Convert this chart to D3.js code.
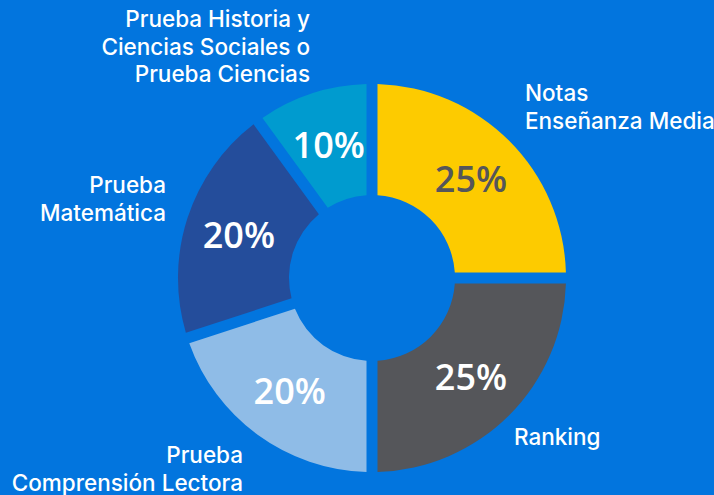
<!DOCTYPE html>
<html>
<head>
<meta charset="utf-8">
<script src="https://cdn.jsdelivr.net/npm/d3@7"></script>
<style>
  html, body { margin: 0; padding: 0; background: #0275de; }
  svg { display: block; }
</style>
</head>
<body>
<svg id="chart" width="714" height="495"></svg>
<script>
// chart data
const categories = ['Notas Enseñanza Media', 'Ranking', 'Prueba Comprensión Lectora', 'Prueba Matemática', 'Prueba Historia y Ciencias Sociales o Prueba Ciencias']
const values = [25, 25, 20, 20, 10]
const labelLines = [
    ['Notas', 'Enseñanza Media'],
    ['Ranking'],
    ['Prueba', 'Comprensión Lectora'],
    ['Prueba', 'Matemática'],
    ['Prueba Historia y', 'Ciencias Sociales o', 'Prueba Ciencias']
]
const sliceColors = ['#fdcb00', '#55565a', '#8fbce7', '#244d9b', '#009bcf']
const valueColors = ['#55565a', '#ffffff', '#ffffff', '#ffffff', '#ffffff']

const width = 714
const height = 495
const cx = 372
const cy = 278
const outerR = 194
const innerR = 83
const gap = 11

// where the outside labels sit (anchor, x, first baseline)
const labelPos = [
    { anchor: 'start', x: 525, y: 101 },
    { anchor: 'start', x: 514, y: 445 },
    { anchor: 'end', x: 243, y: 463 },
    { anchor: 'end', x: 166, y: 193 },
    { anchor: 'end', x: 310, y: 27 }
]
const lineHeight = 27.5

const svg = d3.select('#chart')

const data = categories.map((c, i) => ({ name: c, value: values[i], idx: i }))

const pie = d3.pie()
    .value(d => d.value)
    .sort(null)

const arc = d3.arc()
    .innerRadius(innerR)
    .outerRadius(outerR)
    .padRadius(outerR)
    .padAngle(gap / outerR)

const labelArc = d3.arc()
    .innerRadius(140)
    .outerRadius(140)

const g = svg.append('g')
    .attr('transform', `translate(${cx},${cy})`)

const arcs = pie(data)

g.selectAll('path.slice')
    .data(arcs)
    .enter()
    .append('path')
    .attr('class', 'slice')
    .attr('d', arc)
    .attr('fill', d => sliceColors[d.data.idx])

g.selectAll('text.pct')
    .data(arcs)
    .enter()
    .append('text')
    .attr('class', 'pct')
    .attr('transform', d => `translate(${labelArc.centroid(d)})`)
    .attr('text-anchor', 'middle')
    .attr('dy', '0.36em')
    .attr('font-family', '"Open Sans", sans-serif')
    .attr('font-weight', 600)
    .attr('font-size', 36)
    .attr('fill', d => valueColors[d.data.idx])
    .text(d => d.data.value + '%')

// outside category labels
labelLines.forEach((lines, i) => {
    const p = labelPos[i]
    const t = svg.append('text')
        .attr('text-anchor', p.anchor)
        .attr('font-family', 'Inter, Roboto, sans-serif')
        .attr('font-weight', 500)
        .attr('font-size', 22.5)
        .attr('fill', '#ffffff')
    lines.forEach((line, j) => {
        t.append('tspan')
            .attr('x', p.x)
            .attr('y', p.y + j * lineHeight)
            .text(line)
    })
})
</script>
</body>
</html>
